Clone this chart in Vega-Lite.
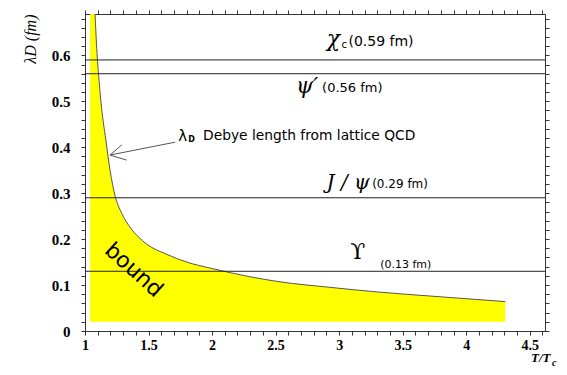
{
  "$schema": "https://vega.github.io/schema/vega-lite/v6.json",
  "width": 460,
  "height": 317,
  "autosize": "none",
  "padding": {"left": 85, "top": 14, "right": 22, "bottom": 44},
  "background": "white",
  "data": {"values": [{}]},
  "config": {
    "view": {"stroke": "#333", "strokeWidth": 1},
    "axis": {
      "grid": false,
      "domainColor": "#333",
      "labelFont": "Liberation Serif",
      "labelFontWeight": "bold",
      "labelFontSize": 15,
      "labelColor": "#000",
      "labelOverlap": false,
      "labelFlush": false
    },
    "text": {"font": "DejaVu Sans", "color": "#000"}
  },
  "datasets": {
    "fill": [
      {"t": 1.04, "lambda": 0.69},
      {"t": 1.079, "lambda": 0.69},
      {"t": 1.097, "lambda": 0.594},
      {"t": 1.105, "lambda": 0.565},
      {"t": 1.131, "lambda": 0.484},
      {"t": 1.163, "lambda": 0.418},
      {"t": 1.197, "lambda": 0.350},
      {"t": 1.236, "lambda": 0.295},
      {"t": 1.289, "lambda": 0.256},
      {"t": 1.354, "lambda": 0.226},
      {"t": 1.42, "lambda": 0.205},
      {"t": 1.486, "lambda": 0.189},
      {"t": 1.643, "lambda": 0.167},
      {"t": 1.801, "lambda": 0.150},
      {"t": 1.984, "lambda": 0.137},
      {"t": 2.142, "lambda": 0.127},
      {"t": 2.299, "lambda": 0.118},
      {"t": 2.535, "lambda": 0.107},
      {"t": 2.929, "lambda": 0.095},
      {"t": 3.3, "lambda": 0.085},
      {"t": 3.769, "lambda": 0.075},
      {"t": 4.307, "lambda": 0.064}
    ],
    "curve": [
      {"t": 1.079, "lambda": 0.69},
      {"t": 1.097, "lambda": 0.594},
      {"t": 1.105, "lambda": 0.565},
      {"t": 1.131, "lambda": 0.484},
      {"t": 1.163, "lambda": 0.418},
      {"t": 1.197, "lambda": 0.350},
      {"t": 1.236, "lambda": 0.295},
      {"t": 1.289, "lambda": 0.256},
      {"t": 1.354, "lambda": 0.226},
      {"t": 1.42, "lambda": 0.205},
      {"t": 1.486, "lambda": 0.189},
      {"t": 1.643, "lambda": 0.167},
      {"t": 1.801, "lambda": 0.150},
      {"t": 1.984, "lambda": 0.137},
      {"t": 2.142, "lambda": 0.127},
      {"t": 2.299, "lambda": 0.118},
      {"t": 2.535, "lambda": 0.107},
      {"t": 2.929, "lambda": 0.095},
      {"t": 3.3, "lambda": 0.085},
      {"t": 3.769, "lambda": 0.075},
      {"t": 4.307, "lambda": 0.064}
    ],
    "levels": [
      {"state": "chi_c", "radius": 0.59},
      {"state": "psi'", "radius": 0.56},
      {"state": "J/psi", "radius": 0.29},
      {"state": "Upsilon", "radius": 0.13}
    ]
  },
  "layer": [
    {
      "data": {"name": "fill"},
      "mark": {"type": "area", "color": "#ffff00", "interpolate": "monotone"},
      "encoding": {
        "x": {
          "field": "t", "type": "quantitative",
          "scale": {"domain": [1, 4.62], "zero": false, "nice": false},
          "axis": {
            "orient": "bottom",
            "ticks": true,
            "tickColor": "#333",
            "tickSize": 4,
            "values": [1,1.1,1.2,1.3,1.4,1.5,1.6,1.7,1.8,1.9,2,2.1,2.2,2.3,2.4,2.5,2.6,2.7,2.8,2.9,3,3.1,3.2,3.3,3.4,3.5,3.6,3.7,3.8,3.9,4,4.1,4.2,4.3,4.4,4.5,4.6],
            "labelExpr": "abs(datum.value*2 - round(datum.value*2)) < 0.001 ? format(datum.value, '~g') : ''",
            "labelPadding": 3,
            "labelFontSize": 14,
            "title": "T/T",
            "titleFont": "Liberation Serif",
            "titleFontStyle": "italic",
            "titleFontWeight": "bold",
            "titleFontSize": 13,
            "titleX": 465,
            "titleY": 26,
            "titleAlign": "right",
            "titleBaseline": "middle"
          }
        },
        "y": {
          "field": "lambda", "type": "quantitative",
          "scale": {"domain": [0, 0.69], "zero": false, "nice": false},
          "axis": {
            "orient": "left",
            "ticks": true,
            "tickColor": "#333",
            "tickSize": 4,
            "values": [0,0.02,0.04,0.06,0.08,0.1,0.12,0.14,0.16,0.18,0.2,0.22,0.24,0.26,0.28,0.3,0.32,0.34,0.36,0.38,0.4,0.42,0.44,0.46,0.48,0.5,0.52,0.54,0.56,0.58,0.6,0.62,0.64,0.66,0.68],
            "labelExpr": "abs(datum.value*10 - round(datum.value*10)) < 0.001 ? (datum.value == 0 ? '0' : format(datum.value, '.1f')) : ''",
            "labelPadding": 11,
            "title": "λD (fm)",
            "titleFont": "Liberation Serif",
            "titleFontStyle": "italic",
            "titleFontWeight": "normal",
            "titleFontSize": 16,
            "titleAngle": -90,
            "titleX": -55,
            "titleY": 0,
            "titleAlign": "right",
            "titleBaseline": "middle"
          }
        },
        "y2": {"datum": 0.02}
      }
    },
    {
      "data": {"name": "curve"},
      "mark": {"type": "line", "color": "#555", "strokeWidth": 1, "interpolate": "monotone"},
      "encoding": {
        "x": {
          "field": "t", "type": "quantitative",
          "scale": {"domain": [1, 4.62], "zero": false, "nice": false},
          "axis": {
            "orient": "top",
            "ticks": true,
            "tickColor": "#333",
            "tickSize": 4,
            "values": [1,1.1,1.2,1.3,1.4,1.5,1.6,1.7,1.8,1.9,2,2.1,2.2,2.3,2.4,2.5,2.6,2.7,2.8,2.9,3,3.1,3.2,3.3,3.4,3.5,3.6,3.7,3.8,3.9,4,4.1,4.2,4.3,4.4,4.5,4.6],
            "labels": false,
            "title": null
          }
        },
        "y": {
          "field": "lambda", "type": "quantitative",
          "scale": {"domain": [0, 0.69], "zero": false, "nice": false},
          "axis": {
            "orient": "right",
            "ticks": true,
            "tickColor": "#333",
            "tickSize": 4,
            "values": [0,0.02,0.04,0.06,0.08,0.1,0.12,0.14,0.16,0.18,0.2,0.22,0.24,0.26,0.28,0.3,0.32,0.34,0.36,0.38,0.4,0.42,0.44,0.46,0.48,0.5,0.52,0.54,0.56,0.58,0.6,0.62,0.64,0.66,0.68],
            "labels": false,
            "title": null
          }
        }
      }
    },
    {
      "data": {"name": "levels"},
      "mark": {"type": "rule", "color": "#222", "strokeWidth": 1},
      "encoding": {
        "y": {"field": "radius", "type": "quantitative", "scale": {"domain": [0, 0.69], "zero": false, "nice": false}, "axis": null}
      }
    },
    {
      "mark": {"type": "rule", "color": "#555", "strokeWidth": 1},
      "encoding": {
        "x": {"datum": 1.709, "scale": {"domain": [1, 4.62], "zero": false, "nice": false}, "axis": null},
        "y": {"datum": 0.411, "scale": {"domain": [0, 0.69], "zero": false, "nice": false}, "axis": null},
        "x2": {"datum": 1.197},
        "y2": {"datum": 0.383}
      }
    },
    {
      "mark": {"type": "rule", "color": "#555", "strokeWidth": 1},
      "encoding": {
        "x": {"datum": 1.289, "scale": {"domain": [1, 4.62], "zero": false, "nice": false}, "axis": null},
        "y": {"datum": 0.405, "scale": {"domain": [0, 0.69], "zero": false, "nice": false}, "axis": null},
        "x2": {"datum": 1.197},
        "y2": {"datum": 0.383}
      }
    },
    {
      "mark": {"type": "rule", "color": "#555", "strokeWidth": 1},
      "encoding": {
        "x": {"datum": 1.328, "scale": {"domain": [1, 4.62], "zero": false, "nice": false}, "axis": null},
        "y": {"datum": 0.372, "scale": {"domain": [0, 0.69], "zero": false, "nice": false}, "axis": null},
        "x2": {"datum": 1.197},
        "y2": {"datum": 0.383}
      }
    },
    {
      "mark": {"type": "text", "text": "χ", "font": "DejaVu Serif", "fontStyle": "italic", "fontSize": 22, "align": "center", "baseline": "middle"},
      "encoding": {
        "x": {"datum": 2.955, "scale": {"domain": [1, 4.62], "zero": false, "nice": false}, "axis": null},
        "y": {"datum": 0.636, "scale": {"domain": [0, 0.69], "zero": false, "nice": false}, "axis": null}
      }
    },
    {
      "mark": {"type": "text", "text": "c", "fontSize": 10, "align": "center", "baseline": "middle"},
      "encoding": {
        "x": {"datum": 3.04, "scale": {"domain": [1, 4.62], "zero": false, "nice": false}, "axis": null},
        "y": {"datum": 0.622, "scale": {"domain": [0, 0.69], "zero": false, "nice": false}, "axis": null}
      }
    },
    {
      "mark": {"type": "text", "text": "(0.59 fm)", "fontSize": 14, "align": "left", "baseline": "middle"},
      "encoding": {
        "x": {"datum": 3.073, "scale": {"domain": [1, 4.62], "zero": false, "nice": false}, "axis": null},
        "y": {"datum": 0.630, "scale": {"domain": [0, 0.69], "zero": false, "nice": false}, "axis": null}
      }
    },
    {
      "mark": {"type": "text", "text": "ψ′", "font": "DejaVu Serif", "fontStyle": "italic", "fontSize": 22, "align": "center", "baseline": "middle"},
      "encoding": {
        "x": {"datum": 2.748, "scale": {"domain": [1, 4.62], "zero": false, "nice": false}, "axis": null},
        "y": {"datum": 0.534, "scale": {"domain": [0, 0.69], "zero": false, "nice": false}, "axis": null}
      }
    },
    {
      "mark": {"type": "text", "text": "(0.56 fm)", "fontSize": 13, "align": "left", "baseline": "middle"},
      "encoding": {
        "x": {"datum": 2.866, "scale": {"domain": [1, 4.62], "zero": false, "nice": false}, "axis": null},
        "y": {"datum": 0.529, "scale": {"domain": [0, 0.69], "zero": false, "nice": false}, "axis": null}
      }
    },
    {
      "mark": {"type": "text", "text": "J / ψ", "font": "DejaVu Serif", "fontStyle": "italic", "fontSize": 20, "align": "center", "baseline": "middle"},
      "encoding": {
        "x": {"datum": 3.071, "scale": {"domain": [1, 4.62], "zero": false, "nice": false}, "axis": null},
        "y": {"datum": 0.322, "scale": {"domain": [0, 0.69], "zero": false, "nice": false}, "axis": null}
      }
    },
    {
      "mark": {"type": "text", "text": "(0.29 fm)", "fontSize": 12, "align": "left", "baseline": "middle"},
      "encoding": {
        "x": {"datum": 3.26, "scale": {"domain": [1, 4.62], "zero": false, "nice": false}, "axis": null},
        "y": {"datum": 0.320, "scale": {"domain": [0, 0.69], "zero": false, "nice": false}, "axis": null}
      }
    },
    {
      "mark": {"type": "text", "text": "ϒ", "font": "DejaVu Serif", "fontSize": 22, "align": "center", "baseline": "middle"},
      "encoding": {
        "x": {"datum": 3.146, "scale": {"domain": [1, 4.62], "zero": false, "nice": false}, "axis": null},
        "y": {"datum": 0.171, "scale": {"domain": [0, 0.69], "zero": false, "nice": false}, "axis": null}
      }
    },
    {
      "mark": {"type": "text", "text": "(0.13 fm)", "fontSize": 11, "align": "left", "baseline": "middle"},
      "encoding": {
        "x": {"datum": 3.323, "scale": {"domain": [1, 4.62], "zero": false, "nice": false}, "axis": null},
        "y": {"datum": 0.143, "scale": {"domain": [0, 0.69], "zero": false, "nice": false}, "axis": null}
      }
    },
    {
      "mark": {"type": "text", "text": "λ", "fontSize": 15, "align": "center", "baseline": "middle"},
      "encoding": {
        "x": {"datum": 1.768, "scale": {"domain": [1, 4.62], "zero": false, "nice": false}, "axis": null},
        "y": {"datum": 0.425, "scale": {"domain": [0, 0.69], "zero": false, "nice": false}, "axis": null}
      }
    },
    {
      "mark": {"type": "text", "text": "D", "fontSize": 8, "fontWeight": "bold", "align": "center", "baseline": "middle"},
      "encoding": {
        "x": {"datum": 1.839, "scale": {"domain": [1, 4.62], "zero": false, "nice": false}, "axis": null},
        "y": {"datum": 0.416, "scale": {"domain": [0, 0.69], "zero": false, "nice": false}, "axis": null}
      }
    },
    {
      "mark": {"type": "text", "text": "Debye length from lattice QCD", "fontSize": 13.8, "align": "left", "baseline": "middle"},
      "encoding": {
        "x": {"datum": 1.929, "scale": {"domain": [1, 4.62], "zero": false, "nice": false}, "axis": null},
        "y": {"datum": 0.425, "scale": {"domain": [0, 0.69], "zero": false, "nice": false}, "axis": null}
      }
    },
    {
      "mark": {"type": "text", "text": "bound", "fontSize": 22, "angle": 42, "align": "center", "baseline": "middle"},
      "encoding": {
        "x": {"datum": 1.385, "scale": {"domain": [1, 4.62], "zero": false, "nice": false}, "axis": null},
        "y": {"datum": 0.133, "scale": {"domain": [0, 0.69], "zero": false, "nice": false}, "axis": null}
      }
    },
    {
      "mark": {"type": "text", "text": "c", "font": "Liberation Serif", "fontStyle": "italic", "fontWeight": "bold", "fontSize": 10, "align": "left", "baseline": "middle"},
      "encoding": {
        "x": {"datum": 4.675, "scale": {"domain": [1, 4.62], "zero": false, "nice": false}, "axis": null},
        "y": {"datum": -0.07, "scale": {"domain": [0, 0.69], "zero": false, "nice": false}, "axis": null}
      }
    }
  ],
  "resolve": {"axis": {"x": "independent", "y": "independent"}}
}
